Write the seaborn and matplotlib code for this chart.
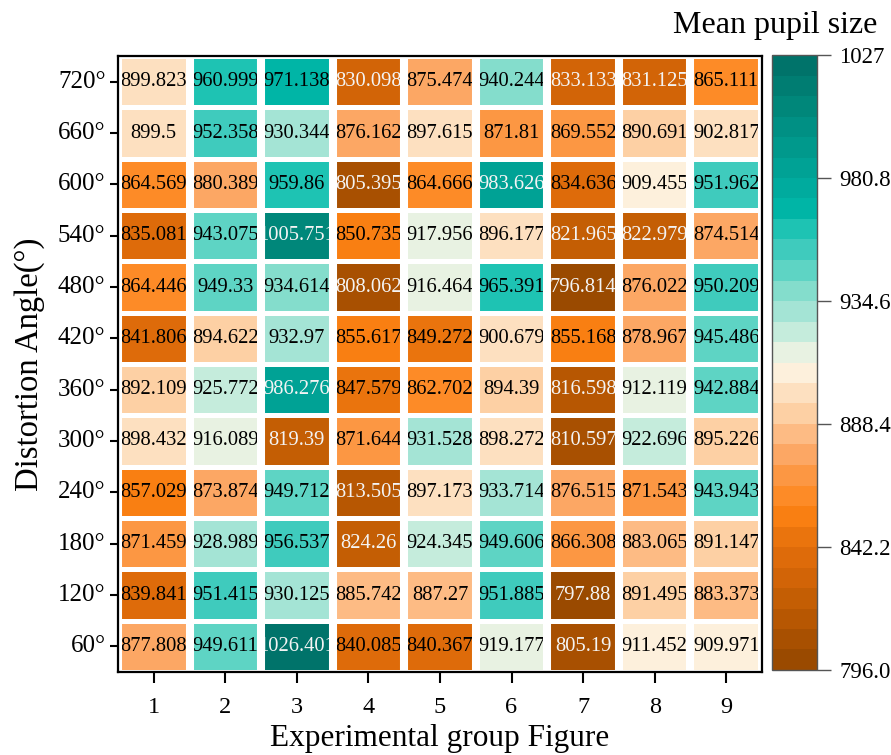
import numpy as np
import pandas as pd
import matplotlib
matplotlib.use("Agg")
import matplotlib.pyplot as plt
import seaborn as sns
from matplotlib.colors import ListedColormap
from matplotlib.patches import Rectangle

# ---------------- data ----------------
groups = ["1", "2", "3", "4", "5", "6", "7", "8", "9"]
angles = ["720°", "660°", "600°", "540°", "480°", "420°",
          "360°", "300°", "240°", "180°", "120°", "60°"]

row_720 = [899.823, 960.999, 971.138, 830.098, 875.474, 940.244, 833.133, 831.125, 865.111]
row_660 = [899.5, 952.358, 930.344, 876.162, 897.615, 871.81, 869.552, 890.691, 902.817]
row_600 = [864.569, 880.389, 959.86, 805.395, 864.666, 983.626, 834.636, 909.455, 951.962]
row_540 = [835.081, 943.075, 1005.751, 850.735, 917.956, 896.177, 821.965, 822.979, 874.514]
row_480 = [864.446, 949.33, 934.614, 808.062, 916.464, 965.391, 796.814, 876.022, 950.209]
row_420 = [841.806, 894.622, 932.97, 855.617, 849.272, 900.679, 855.168, 878.967, 945.486]
row_360 = [892.109, 925.772, 986.276, 847.579, 862.702, 894.39, 816.598, 912.119, 942.884]
row_300 = [898.432, 916.089, 819.39, 871.644, 931.528, 898.272, 810.597, 922.696, 895.226]
row_240 = [857.029, 873.874, 949.712, 813.505, 897.173, 933.714, 876.515, 871.543, 943.943]
row_180 = [871.459, 928.989, 956.537, 824.26, 924.345, 949.606, 866.308, 883.065, 891.147]
row_120 = [839.841, 951.415, 930.125, 885.742, 887.27, 951.885, 797.88, 891.495, 883.373]
row_60 = [877.808, 949.611, 1026.401, 840.085, 840.367, 919.177, 805.19, 911.452, 909.971]

cbar_ticks = [796.0, 842.2, 888.4, 934.6, 980.8, 1027]
cbar_ticklabels = ["796.0", "842.2", "888.4", "934.6", "980.8", "1027"]
vmin, vmax = 796.0, 1027.0

rows = [row_720, row_660, row_600, row_540, row_480, row_420,
        row_360, row_300, row_240, row_180, row_120, row_60]
df = pd.DataFrame(rows, index=angles, columns=groups)
labels = np.array([[f"{v:.3f}".rstrip("0").rstrip(".") for v in r] for r in rows])

# ---------------- style ----------------
sns.set_theme(style="white")
plt.rcParams["font.family"] = ["Liberation Serif", "DejaVu Serif"]

band_colors_top_to_bottom = [
    "#00736a", "#007d72", "#00877a", "#009084", "#00998c", "#00a295",
    "#00ab9e", "#00b5a6", "#1ec3b3", "#3fcbbd", "#5ed4c4", "#84ddcc",
    "#a4e4d5", "#c5ecdc", "#e8f2e2", "#fdf0dc", "#fde0c0", "#fdd0a4",
    "#fdbb84", "#fca764", "#fc9743", "#fd8b27", "#f97f12", "#ea740d",
    "#de6b0a", "#d26407", "#c45e04", "#b75702", "#a85001", "#9a4a00",
]
cmap = ListedColormap(band_colors_top_to_bottom[::-1])

W, H = 891, 755
fig = plt.figure(figsize=(W / 100, H / 100), dpi=100)
ax = fig.add_axes([118 / W, 1 - 672 / H, (762 - 118) / W, (672 - 56) / H])
cax = fig.add_axes([772 / W, 1 - 670 / H, 45 / W, (670 - 55) / H])

sns.heatmap(df, ax=ax, cbar_ax=cax, cmap=cmap, vmin=vmin, vmax=vmax,
            annot=labels, fmt="", annot_kws={"fontsize": 14.8, "color": "black"},
            linewidths=0, cbar_kws={"ticks": cbar_ticks})

# white gaps between cells
for i in range(len(groups) + 1):
    ax.axvline(i, color="white", lw=5.8, zorder=2)
for j in range(len(angles) + 1):
    ax.axhline(j, color="white", lw=3.6, zorder=2)

# text colours and clipping to cells
fx, fy = 0.056, 0.05
for t in ax.texts:
    x, y = t.get_position()
    c, r = int(np.floor(x)), int(np.floor(y))
    v = rows[r][c]
    if v < 834.5 or v > 975:
        t.set_color("#f4f4f4")
    else:
        t.set_color("black")
    t.set_zorder(3)
    t.set_clip_on(True)
    t.set_clip_path(Rectangle((c + fx, r + fy), 1 - 2 * fx, 1 - 2 * fy,
                              transform=ax.transData))

# spines & ticks
for s in ax.spines.values():
    s.set_visible(True)
    s.set_color("black")
    s.set_linewidth(1.6)
    s.set_zorder(4)
ax.tick_params(axis="y", which="major", left=True, length=6, width=1.5,
               color="black", direction="out", pad=3, labelsize=18, labelrotation=0)
ax.tick_params(axis="x", which="major", bottom=True, length=8, width=1.5,
               color="black", direction="out", pad=10, labelsize=17.5, labelrotation=0)
for lab in ax.get_xticklabels() + ax.get_yticklabels():
    lab.set_color("black")

ax.set_xlabel("Experimental group Figure", fontsize=22.5, color="black", labelpad=4)
ax.set_ylabel("Distortion Angle(°)", fontsize=23.5, color="black", labelpad=9)

# colorbar
cbar = ax.collections[0].colorbar
cbar.set_ticks(cbar_ticks)
cbar.set_ticklabels(cbar_ticklabels)
cbar.outline.set_edgecolor("#555555")
cbar.outline.set_linewidth(1.0)
cbar.ax.tick_params(length=10, width=1.0, color="#555555", labelsize=16.5,
                    labelcolor="black", pad=6, right=True, direction="out")

fig.text(877 / W, 1 - 33 / H, "Mean pupil size", ha="right", va="baseline",
         fontsize=23, color="black")

fig.savefig("out.png", dpi=100)
